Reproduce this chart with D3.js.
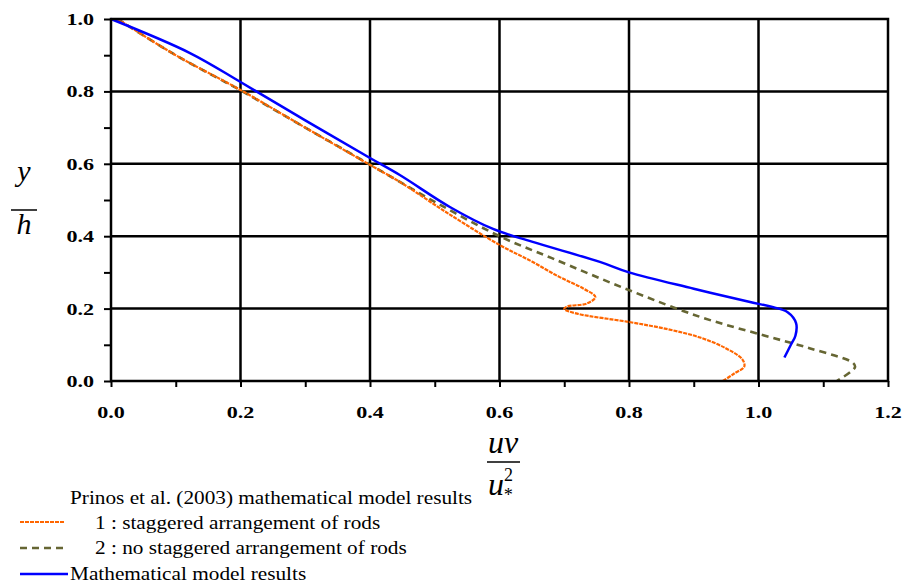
<!DOCTYPE html>
<html>
<head>
<meta charset="utf-8">
<script src="https://cdn.jsdelivr.net/npm/d3@7"></script>
<style>
  body { margin: 0; background: #fff; }
</style>
</head>
<body>
<div id="chart"></div>
<script>
// Prinos et al. (2003) - 1 : staggered arrangement of rods   [uv/u*^2, y/h]
var staggered = [
  [0.01, 1.0], [0.1, 0.9], [0.2, 0.804], [0.3, 0.70], [0.4, 0.597], [0.446, 0.55],
  [0.524, 0.459], [0.6, 0.376], [0.65, 0.33], [0.693, 0.287], [0.73, 0.255],
  [0.748, 0.232], [0.735, 0.214], [0.705, 0.206], [0.70, 0.199], [0.72, 0.186],
  [0.8, 0.163], [0.86, 0.143], [0.91, 0.12], [0.95, 0.09], [0.975, 0.06],
  [0.978, 0.04], [0.962, 0.02], [0.945, 0.0]
];
// Prinos et al. (2003) - 2 : no staggered arrangement of rods
var noStaggered = [
  [0.01, 1.0], [0.1, 0.9], [0.2, 0.803], [0.3, 0.70], [0.4, 0.598], [0.5, 0.495],
  [0.6, 0.40], [0.68, 0.34], [0.8, 0.251], [0.91, 0.177], [1.0, 0.13],
  [1.08, 0.09], [1.146, 0.05], [1.149, 0.038], [1.121, 0.0]
];
// Mathematical model results
var modelResults = [
  [0.0, 1.0], [0.122, 0.906], [0.2, 0.826], [0.3, 0.72], [0.4, 0.616], [0.446, 0.569],
  [0.524, 0.48], [0.59, 0.42], [0.65, 0.385], [0.755, 0.329], [0.8, 0.30],
  [0.9, 0.255], [0.987, 0.218], [1.02, 0.205], [1.045, 0.19], [1.058, 0.16],
  [1.057, 0.125], [1.05, 0.10], [1.04, 0.065]
];
var xTicks = [0.0, 0.2, 0.4, 0.6, 0.8, 1.0, 1.2];
var yTicks = [0.0, 0.2, 0.4, 0.6, 0.8, 1.0];
var minorTicks = [0, 0.1, 0.2, 0.3, 0.4, 0.5, 0.6, 0.7, 0.8, 0.9, 1.0, 1.1, 1.2];
var legendLabels = [
  "Prinos et al. (2003) mathematical model results",
  "1 : staggered arrangement of rods",
  "2 : no staggered arrangement of rods",
  "Mathematical model results"
];

var W = 903, H = 586;
var pLeft = 111, pRight = 888, pTop = 19, pBottom = 381;
var serif = "'Liberation Serif', 'Times New Roman', Times, 'DejaVu Serif', serif";

var svg = d3.select("#chart").append("svg")
    .attr("width", W)
    .attr("height", H)
    .attr("font-family", serif);

var x = d3.scaleLinear().domain([0, 1.2]).range([pLeft, pRight]);
var y = d3.scaleLinear().domain([0, 1.0]).range([pBottom, pTop]);

// grid lines
svg.append("g").selectAll("line")
    .data(xTicks.slice(1, -1))
    .enter().append("line")
    .attr("x1", d => x(d)).attr("x2", d => x(d))
    .attr("y1", pTop).attr("y2", pBottom)
    .attr("stroke", "#000").attr("stroke-width", 2.5);

svg.append("g").selectAll("line")
    .data(yTicks.slice(1, -1))
    .enter().append("line")
    .attr("x1", pLeft).attr("x2", pRight)
    .attr("y1", d => y(d)).attr("y2", d => y(d))
    .attr("stroke", "#000").attr("stroke-width", 2.5);

// axes (ticks every 0.1)
var xAxis = d3.axisBottom(x).tickValues(minorTicks).tickSize(6).tickFormat("");
var yAxis = d3.axisLeft(y).tickValues(minorTicks.filter(d => d <= 1.0)).tickSize(7).tickFormat("");

svg.append("g").attr("transform", "translate(0," + pBottom + ")").call(xAxis)
    .call(g => g.select(".domain").remove())
    .selectAll("line").attr("stroke", "#000").attr("stroke-width", 2);
svg.append("g").attr("transform", "translate(" + pLeft + ",0)").call(yAxis)
    .call(g => g.select(".domain").remove())
    .selectAll("line").attr("stroke", "#000").attr("stroke-width", 2);

// tick labels (reference font is wide, so stretch horizontally)
var sx = 1.3;
var tickG = svg.append("g").attr("font-family", serif).attr("font-size", 17).attr("font-weight", "bold");
tickG.selectAll("text.xl")
    .data(xTicks)
    .enter().append("text")
    .attr("transform", d => "translate(" + x(d) + "," + (pBottom + 37) + ") scale(" + sx + ",1)")
    .attr("text-anchor", "middle")
    .text(d => d.toFixed(1));

tickG.selectAll("text.yl")
    .data(yTicks)
    .enter().append("text")
    .attr("transform", d => "translate(" + (pLeft - 17) + "," + (y(d) + 6) + ") scale(" + sx + ",1)")
    .attr("text-anchor", "end")
    .text(d => d.toFixed(1));

// lines
var line = d3.line()
    .x(d => x(d[0]))
    .y(d => y(d[1]))
    .curve(d3.curveCatmullRom.alpha(0.5));

svg.append("path").datum(noStaggered)
    .attr("d", line).attr("fill", "none")
    .attr("stroke", "#666633").attr("stroke-width", 2.6)
    .attr("stroke-dasharray", "7,5");

svg.append("path").datum(staggered)
    .attr("d", line).attr("fill", "none")
    .attr("stroke", "#ff6600").attr("stroke-width", 2.2)
    .attr("stroke-dasharray", "4,1");

svg.append("path").datum(modelResults)
    .attr("d", line).attr("fill", "none")
    .attr("stroke", "#0000ff").attr("stroke-width", 2.5);

// plot border
svg.append("rect")
    .attr("x", pLeft).attr("y", pTop)
    .attr("width", pRight - pLeft).attr("height", pBottom - pTop)
    .attr("fill", "none").attr("stroke", "#000").attr("stroke-width", 2.5);

// y axis title  y / h
var yt = svg.append("g").attr("transform", "translate(24,0)")
    .attr("font-family", serif).attr("font-size", 30).attr("font-style", "italic");
yt.append("text").attr("x", 0).attr("y", 181).attr("text-anchor", "middle").text("y");
yt.append("line").attr("x1", -13).attr("x2", 13).attr("y1", 210).attr("y2", 210)
    .attr("stroke", "#000").attr("stroke-width", 1.5);
yt.append("text").attr("x", 0).attr("y", 234).attr("text-anchor", "middle").text("h");

// x axis title  uv / u*^2
var xt = svg.append("g").attr("transform", "translate(503,0)")
    .attr("font-family", serif).attr("font-size", 32).attr("font-style", "italic");
xt.append("text").attr("x", 0).attr("y", 453).attr("text-anchor", "middle").text("uv");
xt.append("line").attr("x1", -16).attr("x2", 17).attr("y1", 462).attr("y2", 462)
    .attr("stroke", "#000").attr("stroke-width", 1.5);
var den = xt.append("text").attr("x", -15).attr("y", 495);
den.append("tspan").text("u");
den.append("tspan").attr("font-size", 18).attr("dy", 6).attr("dx", -1).text("*");
den.append("tspan").attr("font-size", 18).attr("font-style", "normal").attr("dy", -20).attr("dx", -8).text("2");

// legend
var lsx = 1.12;
var leg = svg.append("g").attr("font-family", serif).attr("font-size", 19);
function legText(tx, ty, s) {
  leg.append("text").attr("transform", "translate(" + tx + "," + ty + ") scale(" + lsx + ",1)").text(s);
}
legText(70, 504, legendLabels[0]);

leg.append("line").attr("x1", 20).attr("x2", 65).attr("y1", 522).attr("y2", 522)
    .attr("stroke", "#ff6600").attr("stroke-width", 2.2).attr("stroke-dasharray", "4,1");
legText(95, 529, legendLabels[1]);

leg.append("line").attr("x1", 20).attr("x2", 63).attr("y1", 548).attr("y2", 548)
    .attr("stroke", "#666633").attr("stroke-width", 2.6).attr("stroke-dasharray", "7,5");
legText(95, 554, legendLabels[2]);

leg.append("line").attr("x1", 20).attr("x2", 68).attr("y1", 574).attr("y2", 574)
    .attr("stroke", "#0000ff").attr("stroke-width", 2.5);
legText(70, 580, legendLabels[3]);
</script>
</body>
</html>
